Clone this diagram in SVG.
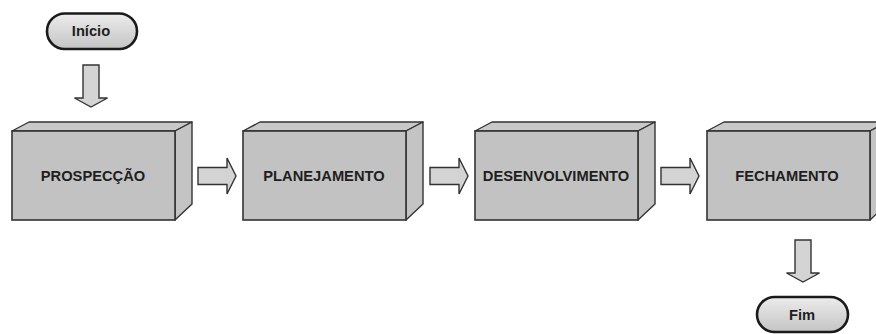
<svg xmlns="http://www.w3.org/2000/svg" width="876" height="334" viewBox="0 0 876 334">
  <defs>
    <linearGradient id="termFill" x1="0" y1="0" x2="0" y2="1">
      <stop offset="0" stop-color="#ececec"/>
      <stop offset="1" stop-color="#c4c4c4"/>
    </linearGradient>
    <!-- 3D block: front face 163x89, depth offset (17,-9) -->
    <g id="block">
      <polygon class="top" points="0,9 17,0 180,0 163,9"/>
      <polygon class="side" points="163,9 180,0 180,82 163,98"/>
      <rect class="front" x="0" y="9" width="163" height="89"/>
    </g>
    <!-- block arrow pointing right, 38 long -->
    <polygon id="arrowR" points="0,-8.5 29,-8.5 29,-18 38,0 29,18 29,8.5 0,8.5"/>
    <!-- block arrow pointing down -->
    <polygon id="arrowD" points="-8,0 8,0 8,33 16.5,33 0,42 -16.5,33 -8,33"/>
  </defs>
  <style>
    .top { fill: #c9c9c9; stroke: #333; stroke-width: 1.4; stroke-linejoin: round; }
    .side { fill: #c4c4c4; stroke: #333; stroke-width: 1.4; stroke-linejoin: round; }
    .front { fill: #c2c2c2; stroke: #333; stroke-width: 1.6; }
    .arrow { fill: #d4d4d4; stroke: #333; stroke-width: 1.4; stroke-linejoin: miter; }
    .term { fill: url(#termFill); stroke: #1a1a1a; stroke-width: 2.6; }
    .label { font-family: "Liberation Sans", Arial, sans-serif; font-weight: bold; font-size: 14.7px; fill: #1e1e1e; text-anchor: middle; }
  </style>

  <rect width="876" height="334" fill="#ffffff"/>

  <!-- start terminator -->
  <g id="inicio">
    <rect class="term" x="47" y="13.5" width="90" height="35.5" rx="17.75" ry="17.75"/>
    <text class="label" x="91" y="35.5">Início</text>
  </g>

  <!-- process blocks -->
  <g id="prospeccao">
    <use href="#block" x="12" y="122"/>
    <text class="label" x="93" y="180.5">PROSPECÇÃO</text>
  </g>
  <g id="planejamento">
    <use href="#block" x="243" y="122"/>
    <text class="label" x="324" y="180.5">PLANEJAMENTO</text>
  </g>
  <g id="desenvolvimento">
    <use href="#block" x="475" y="122"/>
    <text class="label" x="556" y="180.5">DESENVOLVIMENTO</text>
  </g>
  <g id="fechamento">
    <use href="#block" x="707" y="122"/>
    <text class="label" x="787" y="180.5">FECHAMENTO</text>
  </g>

  <!-- end terminator -->
  <g id="fim">
    <rect class="term" x="757" y="297" width="91" height="35" rx="17.5" ry="17.5"/>
    <text class="label" x="802" y="320">Fim</text>
  </g>

  <!-- connectors -->
  <g id="connectors">
    <use href="#arrowD" class="arrow" x="91" y="65"/>
    <use href="#arrowR" class="arrow" x="198" y="176"/>
    <use href="#arrowR" class="arrow" x="430" y="176"/>
    <use href="#arrowR" class="arrow" x="661" y="176"/>
    <use href="#arrowD" class="arrow" x="803" y="240"/>
  </g>
</svg>
